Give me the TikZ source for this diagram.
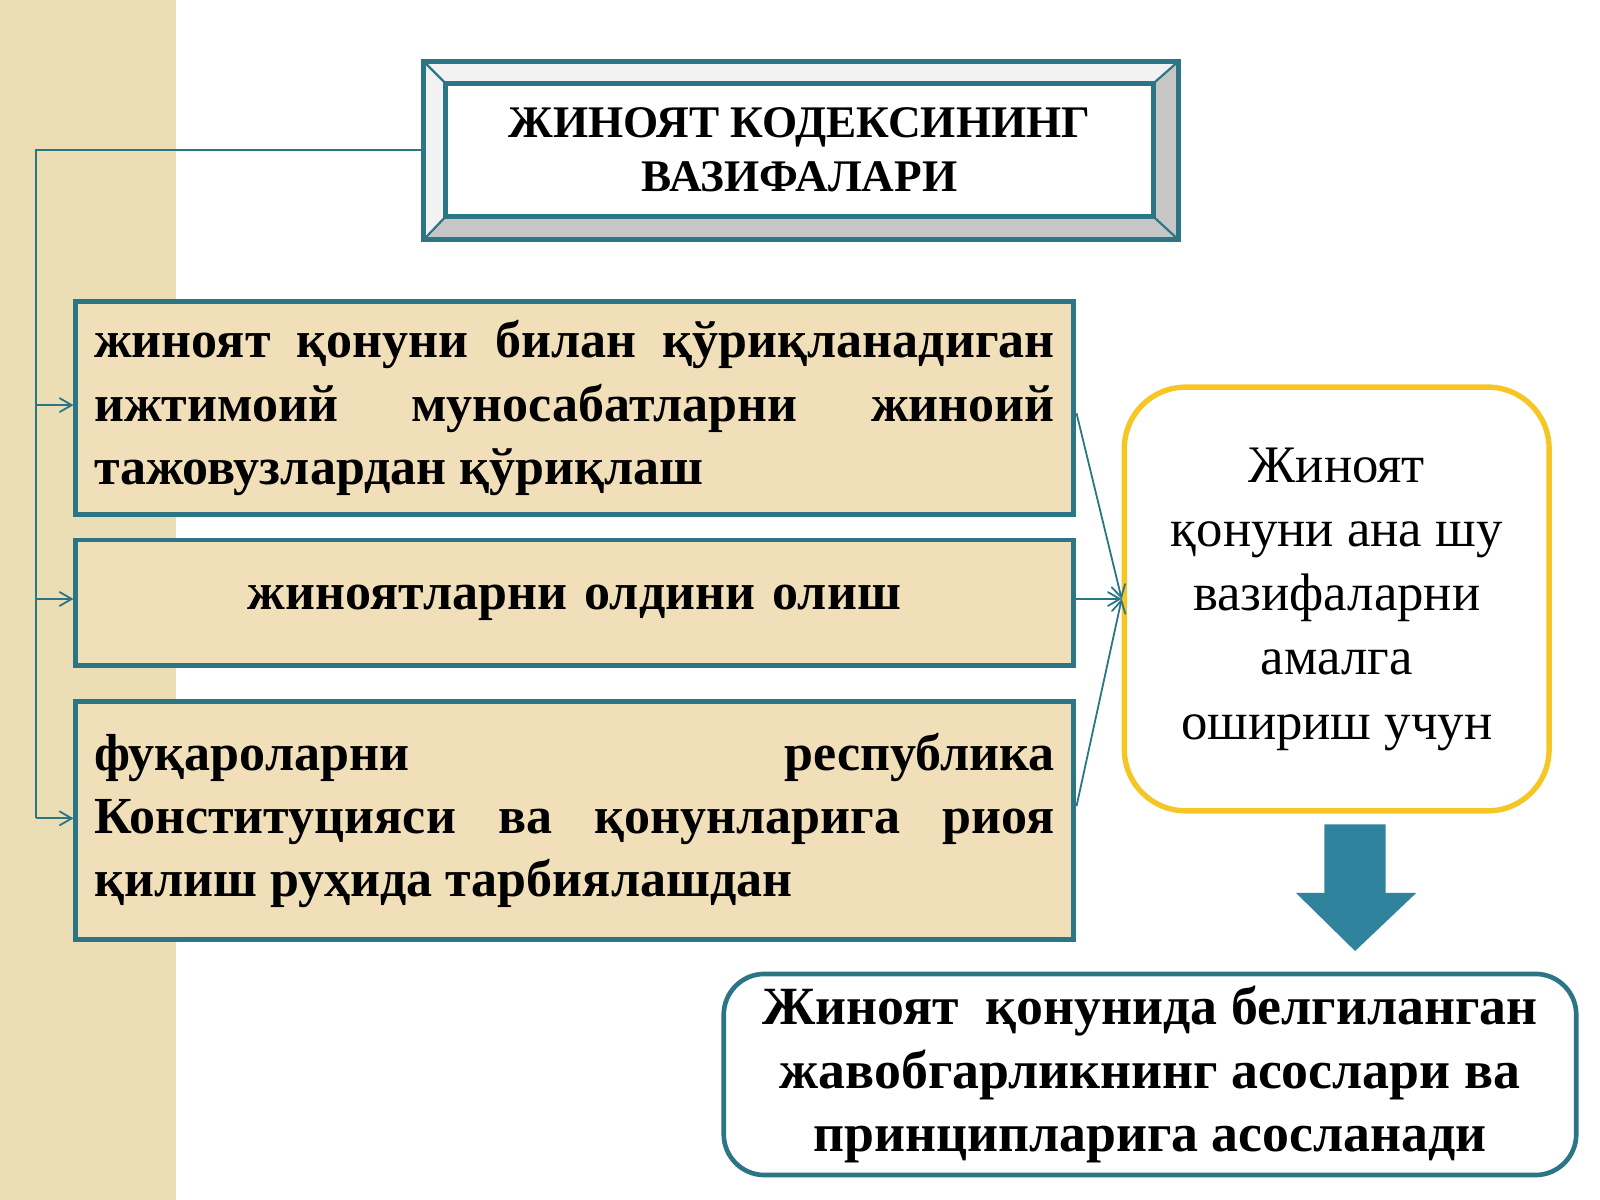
\documentclass[tikz,border=0pt]{standalone}
\usepackage{fontspec}
\setmainfont{Liberation Serif}
\usetikzlibrary{arrows,shapes,positioning}
\definecolor{tealline}{HTML}{2B7585}
\definecolor{beige}{HTML}{F0DFB9}
\definecolor{strip}{HTML}{EBDDB4}
\definecolor{gold}{HTML}{F5C624}
\definecolor{arrowfill}{HTML}{2F839C}
\tikzset{
  taskbox/.style={rectangle,draw=tealline,line width=1.3pt,fill=beige,text width=9.41cm,inner xsep=0.18cm,
    font=\fontsize{14.5}{17.6}\selectfont\bfseries,align=justify,anchor=north west},
  link/.style={draw=tealline,line width=0.5pt,-angle 60}
}
\begin{document}
\begin{tikzpicture}[x=0.01cm,y=-0.01cm]
  \useasboundingbox (0,0) rectangle (1568,1176);
  \fill[strip] (0,0) rectangle (172,1176);
  % title
  \fill[gray!45] (415,60) rectangle (1155,235);
  \fill[white!90!gray] (415,60) -- (1155,60) -- (1130,82) -- (437,82) -- (437,212) -- (415,235) -- cycle;
  \draw[tealline,line width=1.3pt] (415,60) rectangle (1155,235);
  \draw[tealline,line width=0.6pt] (415,60) -- (437,82) (1155,60) -- (1130,82) (415,235) -- (437,212) (1155,235) -- (1130,212);
  \node[draw=tealline,line width=1.3pt,fill=white,minimum width=6.93cm,minimum height=1.30cm,
    font=\fontsize{12.6}{15}\selectfont\bfseries,align=center] (title) at (783.5,147) {ЖИНОЯТ КОДЕКСИНИНГ\\ВАЗИФАЛАРИ};
  % tasks
  \node[taskbox,minimum height=2.09cm] (protect) at (72,293) {жиноят қонуни билан қўриқланадиган ижтимоий муносабатларни жиноий тажовузлардан қўриқлаш};
  \node[taskbox,minimum height=1.23cm,align=center] (prevent) at (72,527) {жиноятларни олдини олиш};
  \node[taskbox,minimum height=2.33cm] (educate) at (72,685) {фуқароларни \hfill республика Конституцияси ва қонунларига риоя қилиш руҳида тарбиялашдан};
  % bracket
  \coordinate (c1) at (35,147);
  \coordinate (c2) at (35,802);
  \coordinate (a1) at (35,397);
  \coordinate (a2) at (35,587);
  \coordinate (r1) at (1055,405);
  \coordinate (r3) at (1055,790);
  \draw[tealline,line width=0.6pt] (415,147) -- (c1) -- (c2);
  \draw[link] (a1) -- (protect.west |- a1);
  \draw[link] (a2) -- (prevent.west |- a2);
  \draw[link] (c2) -- (educate.west |- c2);
  % goal
  \node[draw=gold,line width=1.5pt,fill=white,rounded corners=0.6cm,minimum width=4.16cm,minimum height=4.15cm,
    font=\fontsize{14.7}{17.9}\selectfont,align=center] (goal) at (1310,587) {Жиноят\\қонуни ана шу\\вазифаларни\\амалга\\ошириш учун};
  \draw[link] (r1) -- (goal.west);
  \draw[link] (prevent.east |- a2) -- (goal.west);
  \draw[link] (r3) -- (goal.west);
  % down arrow
  \fill[arrowfill] (1298,808) -- (1358,808) -- (1358,875) -- (1388,875) -- (1328,932) -- (1270,875) -- (1298,875) -- cycle;
  % basis
  \node[draw=tealline,line width=1.3pt,fill=white,rounded corners=0.4cm,minimum width=8.35cm,minimum height=1.97cm,
    font=\fontsize{15}{17.6}\selectfont\bfseries,align=center] (basis) at (1127,1053) {Жиноят\ \ қонунида белгиланган\\жавобгарликнинг асослари ва\\принципларига асосланади};
\end{tikzpicture}
\end{document}
